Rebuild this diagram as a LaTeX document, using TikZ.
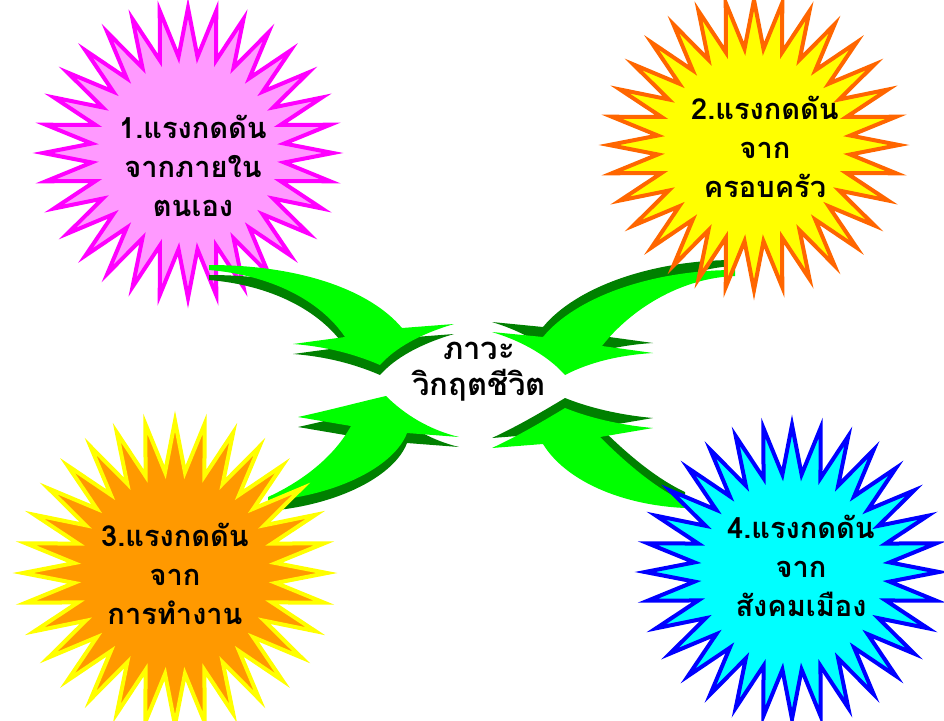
\documentclass[tikz,border=0pt]{standalone}
\usepackage{fontspec}
\newfontfamily\thaifont[Script=Thai]{Loma}
\usetikzlibrary{shapes.geometric}
\definecolor{burstPink}{RGB}{255,153,255}
\definecolor{burstMagenta}{RGB}{255,0,255}
\definecolor{burstYellow}{RGB}{255,255,0}
\definecolor{burstOrange}{RGB}{255,102,0}
\definecolor{burstAmber}{RGB}{255,153,0}
\definecolor{burstCyan}{RGB}{0,255,255}
\definecolor{burstBlue}{RGB}{0,0,255}
\definecolor{arrowGreen}{RGB}{0,255,0}
\definecolor{arrowDark}{RGB}{0,128,0}

\begin{document}
\begin{tikzpicture}[x=1pt, y=-1pt,
    burst/.style={star, star points=32, star point ratio=1.5, line width=4pt, inner sep=0pt},
    causetext/.style={font=\thaifont\bfseries\fontsize{29}{39}\selectfont, align=center, inner sep=0pt}]
  \useasboundingbox (0,0) rectangle (944,720);
  % first pressure, under its arrow
  \node[burst, draw=burstMagenta, fill=burstPink, minimum size=290pt] (self) at (188,153) {};
  % 3D arrows: dark side first, green face on top
  \foreach \dy/\col in {10/arrowDark,0/arrowGreen}{
    \fill[\col, shift={(0,\dy)}] (209,265) .. controls (300,265) and (370,290) .. (402,328) -- (454,324)
      .. controls (420,334) and (395,348) .. (380,365) .. controls (350,352) and (320,346) .. (293,344)
      -- (345,337) .. controls (320,300) and (270,275) .. (209,270) -- cycle;
    \fill[\col, shift={(0,\dy)}] (268,497) .. controls (305,480) and (335,455) .. (351,426) -- (298,417)
      .. controls (330,410) and (360,402) .. (386,396) .. controls (405,415) and (430,430) .. (459,437)
      -- (407,433) .. controls (395,465) and (340,495) .. (268,501) -- cycle;}
  \foreach \dy/\col in {-10/arrowDark,0/arrowGreen}{
    \fill[\col, shift={(0,\dy)}] (735,270) .. controls (650,270) and (575,298) .. (543,337) -- (492,332)
      .. controls (525,342) and (550,358) .. (565,375) .. controls (590,362) and (620,355) .. (653,353)
      -- (602,346) .. controls (630,310) and (680,278) .. (735,276) -- cycle;
    \fill[\col, shift={(0,\dy)}] (543,444) -- (492,448) .. controls (520,435) and (545,420) .. (565,408)
      .. controls (590,418) and (620,425) .. (653,428) -- (600,437) .. controls (625,462) and (655,488) .. (685,502)
      -- (685,508) .. controls (620,505) and (565,480) .. (543,444) -- cycle;}
  % the other pressures
  \node[burst, draw=burstOrange, fill=burstYellow, minimum size=290pt] (family) at (754,145) {};
  \node[burst, draw=burstYellow, fill=burstAmber, minimum size=304pt] (work) at (175,573) {};
  \node[burst, draw=burstBlue, fill=burstCyan, minimum size=294pt] (city) at (792,572) {};
  % texts
  \node[causetext] (selftext) at (193,166) {1.แรงกดดัน\\จากภายใน\\ตนเอง};
  \node[causetext] (familytext) at (765,147) {2.แรงกดดัน\\จาก\\ครอบครัว};
  \node[causetext] (worktext) at (175,574) {3.แรงกดดัน\\จาก\\การทำงาน};
  \node[causetext] (citytext) at (801,566) {4.แรงกดดัน\\จาก\\สังคมเมือง};
  \node[causetext, font=\thaifont\bfseries\fontsize{31}{36}\selectfont] (crisis) at (479,372) {ภาวะ\\วิกฤตชีวิต};
\end{tikzpicture}
\end{document}
